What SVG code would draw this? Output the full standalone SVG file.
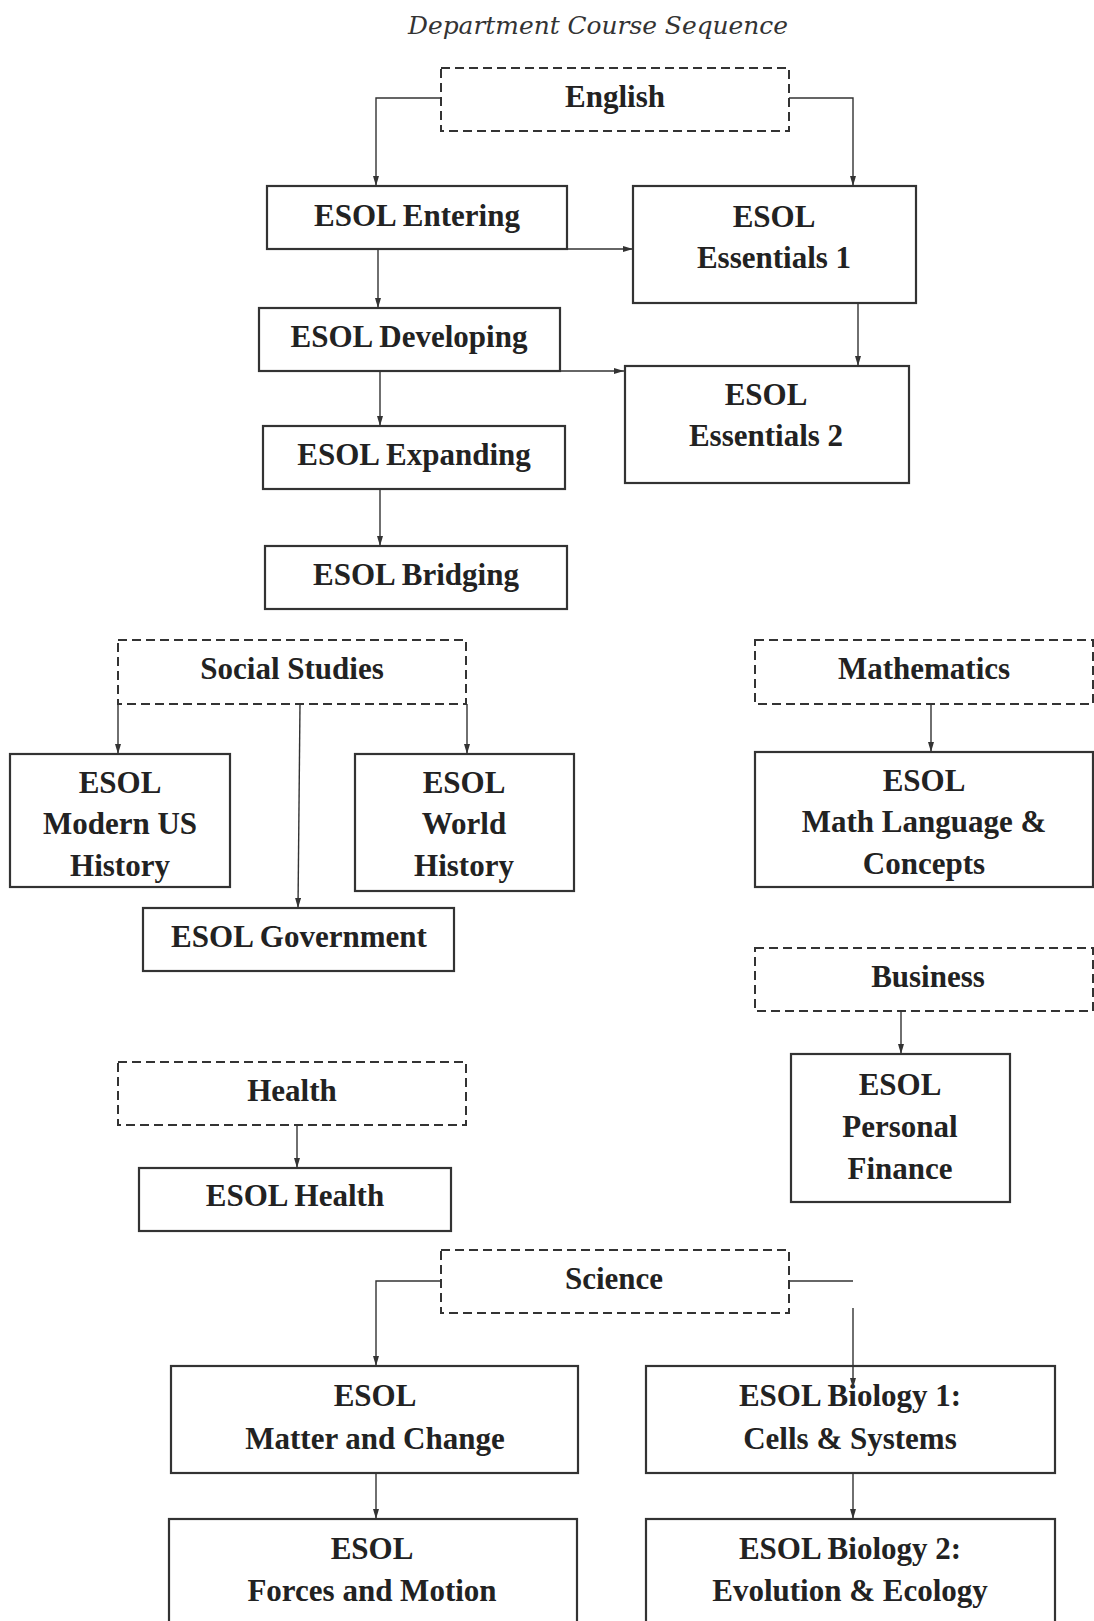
<svg xmlns="http://www.w3.org/2000/svg" width="1094" height="1621" viewBox="0 0 1094 1621">
<defs>
<style>
.box{fill:#fff;stroke:#333;stroke-width:2.2}
.dash{fill:#fff;stroke:#333;stroke-width:2;stroke-dasharray:9 5}
.t{font-family:"Liberation Serif","Times New Roman",serif;font-weight:bold;font-size:31px;fill:#222;text-anchor:middle}
.ttl{font-family:"DejaVu Serif","Liberation Serif",serif;font-style:italic;font-size:25px;fill:#333;text-anchor:middle}
.c{fill:none;stroke:#333;stroke-width:1.4}
.a{marker-end:url(#ah)}
</style>
<marker id="ah" markerUnits="userSpaceOnUse" markerWidth="10" markerHeight="6" refX="10" refY="3" orient="auto">
<path d="M0,0 L10,3 L0,6 z" fill="#333"/>
</marker>
</defs>
<rect width="1094" height="1621" fill="#fff"/>
<text class="ttl" x="598" y="34" textLength="380" lengthAdjust="spacingAndGlyphs">Department Course Sequence</text>

<g id="english"><rect class="dash" x="441" y="68" width="348" height="63"/><text class="t" x="615" y="107">English</text></g>
<g id="esol-entering"><rect class="box" x="267" y="186" width="300" height="63"/><text class="t" x="417" y="226">ESOL Entering</text></g>
<g id="esol-essentials-1"><rect class="box" x="633" y="186" width="283" height="117"/><text class="t" x="774" y="227">ESOL</text><text class="t" x="774" y="268">Essentials 1</text></g>
<g id="esol-developing"><rect class="box" x="259" y="308" width="301" height="63"/><text class="t" x="409" y="347">ESOL Developing</text></g>
<g id="esol-essentials-2"><rect class="box" x="625" y="366" width="284" height="117"/><text class="t" x="766" y="405">ESOL</text><text class="t" x="766" y="446">Essentials 2</text></g>
<g id="esol-expanding"><rect class="box" x="263" y="426" width="302" height="63"/><text class="t" x="414" y="465">ESOL Expanding</text></g>
<g id="esol-bridging"><rect class="box" x="265" y="546" width="302" height="63"/><text class="t" x="416" y="585">ESOL Bridging</text></g>

<g id="social-studies"><rect class="dash" x="118" y="640" width="348" height="64"/><text class="t" x="292" y="679">Social Studies</text></g>
<g id="esol-modern-us-history"><rect class="box" x="10" y="754" width="220" height="133"/><text class="t" x="120" y="793">ESOL</text><text class="t" x="120" y="834">Modern US</text><text class="t" x="120" y="876">History</text></g>
<g id="esol-world-history"><rect class="box" x="355" y="754" width="219" height="137"/><text class="t" x="464" y="793">ESOL</text><text class="t" x="464" y="834">World</text><text class="t" x="464" y="876">History</text></g>
<g id="esol-government"><rect class="box" x="143" y="908" width="311" height="63"/><text class="t" x="299" y="947">ESOL Government</text></g>

<g id="mathematics"><rect class="dash" x="755" y="640" width="338" height="64"/><text class="t" x="924" y="679">Mathematics</text></g>
<g id="esol-math-language"><rect class="box" x="755" y="752" width="338" height="135"/><text class="t" x="924" y="791">ESOL</text><text class="t" x="924" y="832">Math Language &amp;</text><text class="t" x="924" y="874">Concepts</text></g>
<g id="business"><rect class="dash" x="755" y="948" width="338" height="63"/><text class="t" x="928" y="987">Business</text></g>
<g id="esol-personal-finance"><rect class="box" x="791" y="1054" width="219" height="148"/><text class="t" x="900" y="1095">ESOL</text><text class="t" x="900" y="1137">Personal</text><text class="t" x="900" y="1179">Finance</text></g>

<g id="health"><rect class="dash" x="118" y="1062" width="348" height="63"/><text class="t" x="292" y="1101">Health</text></g>
<g id="esol-health"><rect class="box" x="139" y="1168" width="312" height="63"/><text class="t" x="295" y="1206">ESOL Health</text></g>

<g id="science"><rect class="dash" x="441" y="1250" width="348" height="63"/><text class="t" x="614" y="1289">Science</text></g>
<g id="esol-matter-and-change"><rect class="box" x="171" y="1366" width="407" height="107"/><text class="t" x="375" y="1406">ESOL</text><text class="t" x="375" y="1449">Matter and Change</text></g>
<g id="esol-biology-1"><rect class="box" x="646" y="1366" width="409" height="107"/><text class="t" x="850" y="1406">ESOL Biology 1:</text><text class="t" x="850" y="1449">Cells &amp; Systems</text></g>
<g id="esol-forces-and-motion"><rect class="box" x="169" y="1519" width="408" height="110"/><text class="t" x="372" y="1559">ESOL</text><text class="t" x="372" y="1601">Forces and Motion</text></g>
<g id="esol-biology-2"><rect class="box" x="646" y="1519" width="409" height="110"/><text class="t" x="850" y="1559">ESOL Biology 2:</text><text class="t" x="850" y="1601">Evolution &amp; Ecology</text></g>

<g id="connectors">
<path class="c a" d="M441,98 H376 V186"/>
<path class="c a" d="M789,98 H853 V186"/>
<path class="c a" d="M567,249 H633"/>
<path class="c a" d="M378,249 V308"/>
<path class="c a" d="M858,303 V366"/>
<path class="c a" d="M560,371 H624"/>
<path class="c a" d="M380,371 V426"/>
<path class="c a" d="M380,489 V546"/>
<path class="c a" d="M118,704 V754"/>
<path class="c a" d="M467,704 V754"/>
<path class="c a" d="M300,704 L298,908"/>
<path class="c a" d="M931,704 V752"/>
<path class="c a" d="M901,1011 V1054"/>
<path class="c a" d="M297,1125 V1168"/>
<path class="c a" d="M441,1281 H376 V1366"/>
<path class="c" d="M789,1281 H853"/>
<path class="c a" d="M853,1308 V1388"/>
<path class="c a" d="M376,1473 V1519"/>
<path class="c a" d="M853,1473 V1519"/>
</g>
</svg>
